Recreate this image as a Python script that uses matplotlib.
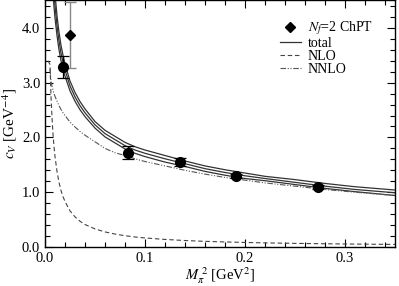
import matplotlib
matplotlib.use("Agg")
import matplotlib.pyplot as plt
from matplotlib.ticker import MultipleLocator
from matplotlib.lines import Line2D

plt.rcParams["font.family"] = ["Liberation Serif", "DejaVu Serif"]
plt.rcParams["mathtext.fontset"] = "stix"

# lattice points
m2_lat = [0.0179, 0.0828, 0.1352, 0.1909, 0.2727]
cv_lat = [3.29, 1.72, 1.555, 1.30, 1.09]
cv_err = [0.20, 0.12, 0.07, 0.04, 0.04]

# Nf=2 ChPT point
m2_chpt = [0.0249]
cv_chpt = [3.87]
cv_chpt_err = [0.60]

# NLO curve (dashed)
m2_nlo = [0.003, 0.005, 0.006, 0.007, 0.008, 0.009, 0.010, 0.012, 0.014, 0.016,
          0.018, 0.020, 0.025, 0.030, 0.035, 0.040, 0.05, 0.06, 0.07, 0.08,
          0.09, 0.10, 0.12, 0.14, 0.16, 0.18, 0.20, 0.22, 0.25, 0.28, 0.31, 0.35]
cv_nlo = [3.40, 3.33, 2.75, 2.36, 2.06, 1.83, 1.65, 1.38, 1.18, 1.03,
          0.92, 0.83, 0.66, 0.55, 0.47, 0.41, 0.33, 0.275, 0.236, 0.206,
          0.183, 0.165, 0.138, 0.118, 0.103, 0.092, 0.083, 0.075, 0.066, 0.059, 0.053, 0.047]

# NNLO curve (dash-dot)
m2_nnlo = [0.005, 0.006, 0.007, 0.008, 0.009, 0.010, 0.012, 0.014, 0.016,
           0.018, 0.020, 0.025, 0.030, 0.035, 0.040, 0.05, 0.06, 0.07, 0.08,
           0.09, 0.10, 0.12, 0.14, 0.16, 0.18, 0.20, 0.22, 0.25, 0.28, 0.31, 0.35]
cv_nnlo = [3.25, 3.03, 2.93, 2.86, 2.80, 2.75, 2.66, 2.58, 2.51,
           2.45, 2.40, 2.28, 2.19, 2.11, 2.04, 1.92, 1.80, 1.72, 1.67,
           1.61, 1.56, 1.48, 1.40, 1.33, 1.27, 1.22, 1.17, 1.11, 1.05, 1.00, 0.94]

# total with error band (three solid lines)
m2_tot = [0.008, 0.009, 0.010, 0.012, 0.014, 0.016, 0.018, 0.020, 0.025, 0.030,
          0.035, 0.040, 0.05, 0.06, 0.07, 0.08, 0.09, 0.10, 0.12, 0.14,
          0.16, 0.18, 0.20, 0.22, 0.25, 0.28, 0.31, 0.35]
cv_tot = [4.92, 4.63, 4.40, 4.04, 3.76, 3.54, 3.37, 3.23, 2.94, 2.74,
          2.58, 2.45, 2.23, 2.07, 1.96, 1.85, 1.77, 1.71, 1.61, 1.52,
          1.43, 1.36, 1.30, 1.25, 1.18, 1.11, 1.05, 0.99]
cv_tot_hi = [5.20, 4.88, 4.62, 4.22, 3.92, 3.68, 3.50, 3.34, 3.03, 2.82,
             2.655, 2.52, 2.29, 2.13, 2.02, 1.91, 1.83, 1.77, 1.67, 1.57,
             1.48, 1.41, 1.35, 1.29, 1.23, 1.16, 1.10, 1.04]
cv_tot_lo = [4.64, 4.38, 4.18, 3.86, 3.60, 3.40, 3.24, 3.12, 2.85, 2.66,
             2.505, 2.38, 2.17, 2.01, 1.90, 1.79, 1.71, 1.65, 1.55, 1.47,
             1.38, 1.31, 1.25, 1.21, 1.14, 1.07, 1.01, 0.94]

fig = plt.figure(figsize=(3.99, 2.86), dpi=100)
ax = fig.add_axes([0.1128, 0.1364, 0.877, 0.862])

ax.plot(m2_tot, cv_tot, color="#333333", lw=0.9)
ax.plot(m2_tot, cv_tot_hi, color="#333333", lw=0.9)
ax.plot(m2_tot, cv_tot_lo, color="#333333", lw=0.9)
ax.plot(m2_nlo, cv_nlo, color="#444444", lw=0.8, ls=(0, (4, 2.5)))
ax.plot(m2_nnlo, cv_nnlo, color="#555555", lw=0.8, ls=(0, (5, 1.5, 1, 1.5, 1, 1.5)))

ax.errorbar(m2_chpt, cv_chpt, yerr=cv_chpt_err, fmt="D", color="black", ms=5,
            ecolor="#888888", elinewidth=1.0, capsize=4, capthick=1.0, zorder=5)
ax.errorbar(m2_lat, cv_lat, yerr=cv_err, fmt="o", color="black", ms=7,
            ecolor="black", elinewidth=0.9, capsize=4, capthick=0.9, zorder=5)

ax.set_xlim(0, 0.35)
ax.set_ylim(0, 4.5)
ax.xaxis.set_major_locator(MultipleLocator(0.1))
ax.xaxis.set_minor_locator(MultipleLocator(0.02))
ax.yaxis.set_major_locator(MultipleLocator(1.0))
ax.yaxis.set_minor_locator(MultipleLocator(0.2))
ax.xaxis.set_major_formatter(plt.FormatStrFormatter("%.1f"))
ax.yaxis.set_major_formatter(plt.FormatStrFormatter("%.1f"))
ax.tick_params(which="both", direction="in", top=True, right=True, labelsize=10.5)
ax.tick_params(which="major", length=6, width=0.8)
ax.tick_params(which="minor", length=3.5, width=0.8)
for s in ax.spines.values():
    s.set_linewidth(1.0)

ax.set_xlabel(r"$M_\pi^{\ 2}$ [GeV$^2$]", fontsize=10.5, labelpad=0)
ax.set_ylabel(r"$c_V$ [GeV$^{-4}$]", fontsize=11, labelpad=2)

handles = [
    Line2D([], [], marker="D", color="black", ls="none", ms=5),
    Line2D([], [], color="#333333", lw=0.9),
    Line2D([], [], color="#444444", lw=0.8, ls=(0, (4, 2.5))),
    Line2D([], [], color="#555555", lw=0.8, ls=(0, (5, 1.5, 1, 1.5, 1, 1.5))),
]
labels = [r"$N_f$=2 ChPT", "total", "NLO", "NNLO"]
ax.legend(handles, labels, loc="upper left", bbox_to_anchor=(0.655, 0.945),
          frameon=False, fontsize=10, handlelength=1.5, handletextpad=0.5,
          labelspacing=0.0, borderaxespad=0)

fig.savefig("out.png", dpi=100)
